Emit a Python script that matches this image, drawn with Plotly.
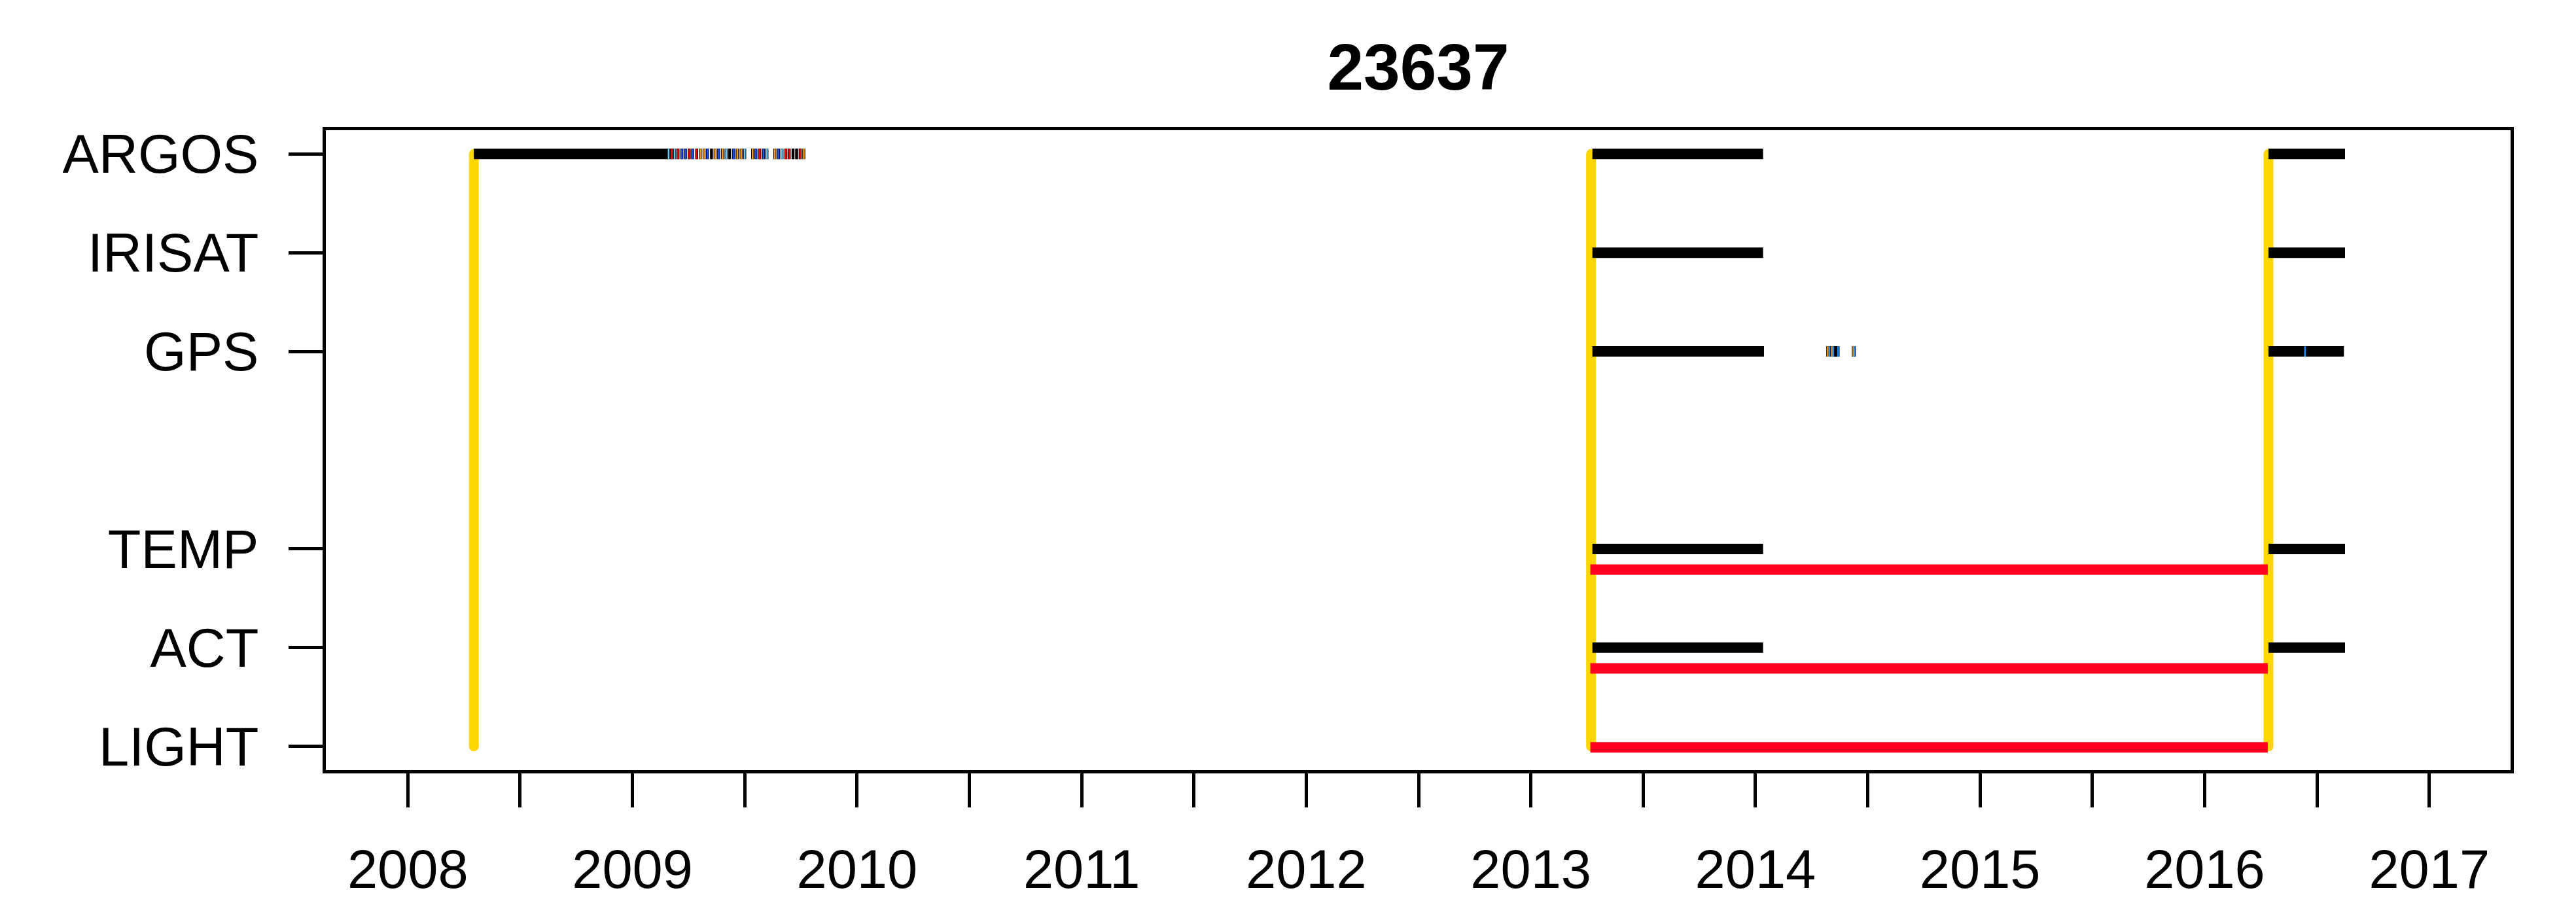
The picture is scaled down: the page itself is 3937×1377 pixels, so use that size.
import plotly.graph_objects as go

# ---------------- data ----------------
title_text = "23637"
row_labels = ["LIGHT", "ACT", "TEMP", "GPS", "IRISAT", "ARGOS"]
row_levels = [1, 2, 3, 5, 6, 7]
year_ticks = [2008, 2008.5, 2009, 2009.5, 2010, 2010.5, 2011, 2011.5, 2012, 2012.5,
              2013, 2013.5, 2014, 2014.5, 2015, 2015.5, 2016, 2016.5, 2017]
year_labels = ["2008", "", "2009", "", "2010", "", "2011", "", "2012", "",
               "2013", "", "2014", "", "2015", "", "2016", "", "2017"]
x_limits = [2007.635, 2017.362]
y_limits = [0.76, 7.24]

# deployments (yellow verticals): date, from level, to level
deploy_dates = [2008.294, 2013.268, 2016.284]
deploy_from = [1, 1, 1]
deploy_to = [7, 7, 7]

# black transmission / sensor bars: row, start, end
bar_rows = ["ARGOS", "ARGOS", "IRISAT", "GPS", "TEMP", "ACT",
            "ARGOS", "IRISAT", "GPS", "TEMP", "ACT"]
bar_start = [2008.294, 2013.274, 2013.274, 2013.274, 2013.274, 2013.274,
             2016.284, 2016.284, 2016.284, 2016.284, 2016.284]
bar_end = [2009.161, 2014.034, 2014.034, 2014.038, 2014.034, 2014.034,
           2016.625, 2016.625, 2016.620, 2016.625, 2016.625]

# red archived-data bars: row level, start, end
red_levels = [2.79, 1.79, 0.99]
red_start = [2013.265, 2013.265, 2013.265]
red_end = [2016.281, 2016.281, 2016.281]

# individual message stripes: row, date, colour
stripe_rows = ["ARGOS"] * 36 + ["GPS"] * 9 + ["GPS"]
stripe_dates = [2009.161, 2009.174, 2009.188, 2009.203, 2009.220, 2009.236,
                2009.253, 2009.268, 2009.286, 2009.302, 2009.319, 2009.334,
                2009.352, 2009.368, 2009.384, 2009.401, 2009.417, 2009.433,
                2009.451, 2009.467, 2009.484, 2009.500, 2009.535, 2009.550,
                2009.567, 2009.584, 2009.599, 2009.634, 2009.650, 2009.666,
                2009.683, 2009.698, 2009.715, 2009.731, 2009.747, 2009.763,
                2014.322, 2014.329, 2014.340, 2014.346, 2014.356, 2014.362,
                2014.368, 2014.436, 2014.440,
                2016.447]
stripe_colors = ["#66CCFF", "#FF0000", "#66CCFF", "#FF0000", "#1E50FF", "#1E50FF",
                 "#FF0000", "#1E50FF", "#FF0000", "#FF9900", "#FF9900", "#1E50FF",
                 "#000000", "#FF9900", "#1E50FF", "#FF9900", "#66CCFF", "#000000",
                 "#1E50FF", "#FF9900", "#FF9900", "#66CCFF", "#FF9900", "#1E50FF",
                 "#FF0000", "#1E50FF", "#66CCFF", "#FF9900", "#1E50FF", "#66CCFF",
                 "#FF0000", "#FF0000", "#000000", "#000000", "#FF0000", "#FF9900",
                 "#FF9900", "#1E90FF", "#FF9900", "#1E90FF", "#000000", "#000000",
                 "#1E90FF", "#FF9900", "#1E90FF",
                 "#1E90FF"]

# ---------------- styles ----------------
YELLOW = "#FFD700"
RED = "#FF0022"
BLACK = "#000000"
BAR_W = 16
YEL_W = 15
HALF_BAR = 0.053  # half bar height in y units (16 px)
FONT = "Liberation Sans, Arial, sans-serif"

level_of = dict(zip(row_labels, row_levels))

fig = go.Figure()

# yellow deployment verticals (under everything)
for d, y0, y1 in zip(deploy_dates, deploy_from, deploy_to):
    fig.add_trace(go.Scatter(x=[d, d], y=[y0, y1], mode="lines+markers",
                             line=dict(color=YELLOW, width=YEL_W),
                             marker=dict(color=YELLOW, size=YEL_W, line=dict(width=0)),
                             hoverinfo="skip", showlegend=False))

# red bars
for lv, s, e in zip(red_levels, red_start, red_end):
    fig.add_trace(go.Scatter(x=[s, e], y=[lv, lv], mode="lines",
                             line=dict(color=RED, width=BAR_W),
                             hoverinfo="skip", showlegend=False))

# black bars
for r, s, e in zip(bar_rows, bar_start, bar_end):
    lv = level_of[r]
    fig.add_trace(go.Scatter(x=[s, e], y=[lv, lv], mode="lines",
                             line=dict(color=BLACK, width=BAR_W),
                             hoverinfo="skip", showlegend=False))

# stripes: black underlay then coloured core
sx, sy = [], []
for r, d in zip(stripe_rows, stripe_dates):
    lv = level_of[r]
    sx += [d, d, None]
    sy += [lv - HALF_BAR, lv + HALF_BAR, None]
fig.add_trace(go.Scatter(x=sx, y=sy, mode="lines", line=dict(color=BLACK, width=4.5),
                         hoverinfo="skip", showlegend=False))
for r, d, c in zip(stripe_rows, stripe_dates, stripe_colors):
    lv = level_of[r]
    fig.add_trace(go.Scatter(x=[d, d], y=[lv - HALF_BAR, lv + HALF_BAR], mode="lines",
                             line=dict(color=c, width=2.5),
                             hoverinfo="skip", showlegend=False))

W, H = 3937, 1377
L, R, T, B = 498, 100, 199, 200

fig.update_layout(
    width=W, height=H,
    margin=dict(l=L, r=R, t=T, b=B, pad=0, autoexpand=False),
    paper_bgcolor="white", plot_bgcolor="white",
    showlegend=False,
    font=dict(family=FONT, color="black", size=83),
    title=dict(text="<b>" + title_text + "</b>", x=0.5, xref="paper",
               y=1 - 102 / H, yref="container", yanchor="middle", xanchor="center",
               font=dict(family=FONT, size=100, color="black")),
)
fig.update_xaxes(range=x_limits, tickmode="array", tickvals=year_ticks, ticktext=year_labels,
                 ticks="outside", ticklen=52, tickwidth=4.5, tickcolor="black",
                 showline=True, linewidth=5, linecolor="black", mirror=True,
                 showgrid=False, zeroline=False, ticklabelstandoff=23, automargin=False,
                 tickfont=dict(family=FONT, size=83, color="black"))
fig.update_yaxes(range=y_limits, tickmode="array", tickvals=row_levels, ticktext=row_labels,
                 ticks="outside", ticklen=52, tickwidth=4.5, tickcolor="black",
                 showline=True, linewidth=5, linecolor="black", mirror=True,
                 showgrid=False, zeroline=False, ticklabelstandoff=29, automargin=False,
                 tickfont=dict(family=FONT, size=83, color="black"))

# remove the default 8 px page margin so the figure fills the window exactly
fig.write_html("out.html", config={"displayModeBar": False},
               post_script="document.body.style.margin='0';document.body.style.overflow='hidden';")
